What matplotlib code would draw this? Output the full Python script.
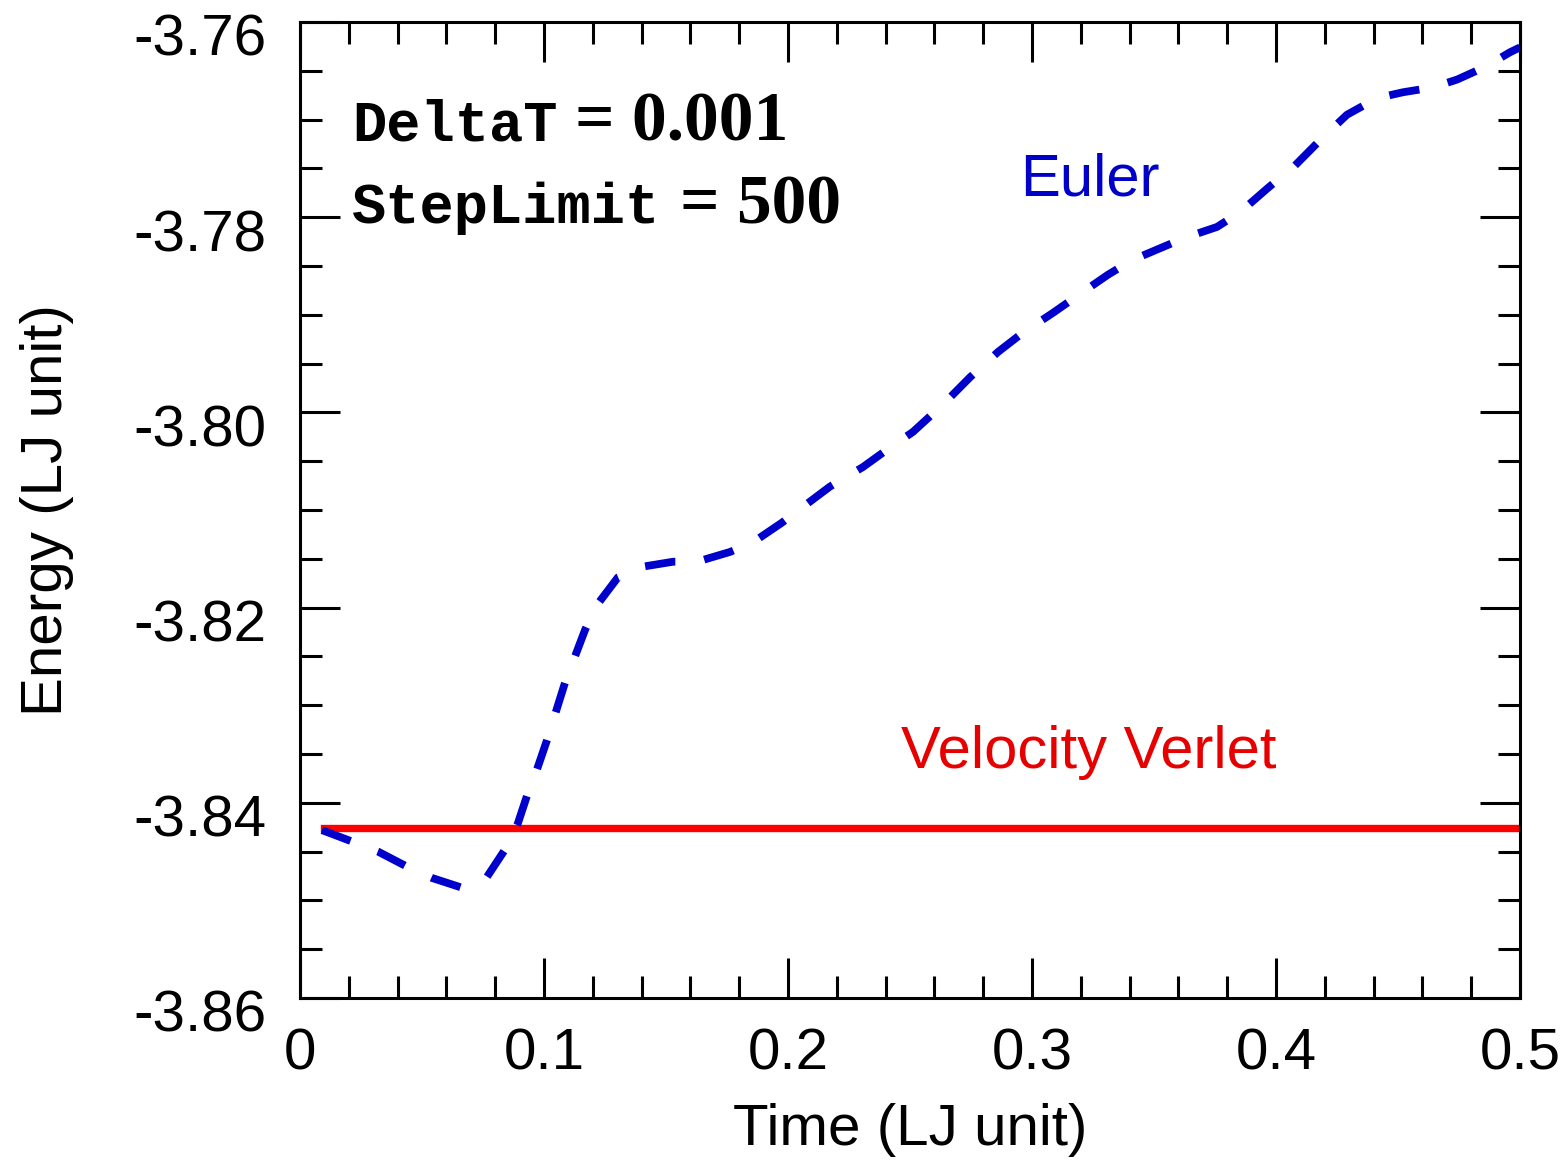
import matplotlib.pyplot as plt
import matplotlib.transforms as mtransforms
from matplotlib.ticker import MultipleLocator

plt.rcParams['font.family'] = 'Liberation Sans'
plt.rcParams['lines.scale_dashes'] = False

# Euler integrator energy
euler_t = [0.0090, 0.0217, 0.0320, 0.0443, 0.0541, 0.0664, 0.0766, 0.0840, 0.0893,
           0.0934, 0.0971, 0.1012, 0.1086, 0.1168, 0.1209, 0.1303, 0.1406, 0.1529,
           0.1627, 0.1762, 0.1857, 0.1975, 0.2172, 0.2307, 0.2418, 0.2512, 0.2643,
           0.2746, 0.2861, 0.2959, 0.3086, 0.3189, 0.3311, 0.3410, 0.3627, 0.3758,
           0.3852, 0.3967, 0.4078, 0.4193, 0.4291, 0.4414, 0.4520, 0.4643, 0.4742,
           0.4857, 0.4959, 0.5000]
euler_e = [-3.8428, -3.8440, -3.8450, -3.8466, -3.8477, -3.8487, -3.8476, -3.8448, -3.8421,
           -3.8390, -3.8366, -3.8336, -3.8277, -3.8223, -3.8200, -3.8169, -3.8158, -3.8153,
           -3.8153, -3.8143, -3.8133, -3.8113, -3.8076, -3.8056, -3.8036, -3.8020, -3.7990,
           -3.7964, -3.7938, -3.7919, -3.7898, -3.7880, -3.7859, -3.7844, -3.7821, -3.7810,
           -3.7795, -3.7770, -3.7747, -3.7718, -3.7695, -3.7678, -3.7672, -3.7667, -3.7659,
           -3.7646, -3.7631, -3.7626]

# Velocity Verlet energy (flat)
verlet_t = [0.01, 0.1, 0.2, 0.3, 0.4, 0.5]
verlet_e = [-3.8426, -3.8426, -3.8426, -3.8426, -3.8426, -3.8426]

xticks = [0, 0.1, 0.2, 0.3, 0.4, 0.5]
xticklabels = ['0', '0.1', '0.2', '0.3', '0.4', '0.5']
yticks = [-3.86, -3.84, -3.82, -3.80, -3.78, -3.76]
yticklabels = ['-3.86', '-3.84', '-3.82', '-3.80', '-3.78', '-3.76']

fig = plt.figure(figsize=(15.68, 11.6), dpi=100)
ax = fig.add_axes([300/1568, 1 - 998/1160, 1220/1568, 976/1160])

ax.plot(verlet_t, verlet_e, color='#ff0000', lw=5.3, zorder=2)
ax.plot(euler_t, euler_e, color='#0000cc', lw=5.6, linestyle=(0, (22, 21)), zorder=3)

ax.set_xlim(0, 0.5)
ax.set_ylim(-3.86, -3.76)
ax.set_xticks(xticks)
ax.set_xticklabels(xticklabels)
ax.set_yticks(yticks)
ax.set_yticklabels(yticklabels)
ax.xaxis.set_minor_locator(MultipleLocator(0.02))
ax.yaxis.set_minor_locator(MultipleLocator(0.005))

ax.tick_params(which='both', direction='in', top=True, right=True, width=2.2, labelsize=42)
ax.tick_params(which='major', length=29)
ax.tick_params(which='minor', length=16)
ax.tick_params(axis='y', pad=24)
ax.tick_params(axis='x', pad=21)
for s in ax.spines.values():
    s.set_linewidth(2.2)

# y labels sit a little below their ticks in the original
off = mtransforms.ScaledTranslation(0, -13/100, fig.dpi_scale_trans)
for lab in ax.get_yticklabels():
    lab.set_transform(lab.get_transform() + off)

ax.set_xlabel('Time (LJ unit)', fontsize=42, labelpad=16)
ax.set_ylabel('Energy (LJ unit)', fontsize=42, labelpad=43)

ax.text(0.3238, -3.7762, 'Euler', color='#0000c8', fontsize=43, ha='center', va='center')
ax.text(0.3234, -3.8348, 'Velocity Verlet', color='#e60000', fontsize=43, ha='center', va='center')

mono = dict(family='Liberation Mono', weight='bold', fontsize=41, va='baseline')
serif = dict(family='Liberation Serif', weight='bold', fontsize=50, va='baseline')
ax.text(0.0213, -3.7721, 'DeltaT', **mono)
ax.text(0.1127, -3.7721, '= 0.001', **serif)
ax.text(0.0213, -3.7806, 'StepLimit', **mono)
ax.text(0.1557, -3.7806, '= 500', **serif)

fig.savefig('out.png', dpi=100)
